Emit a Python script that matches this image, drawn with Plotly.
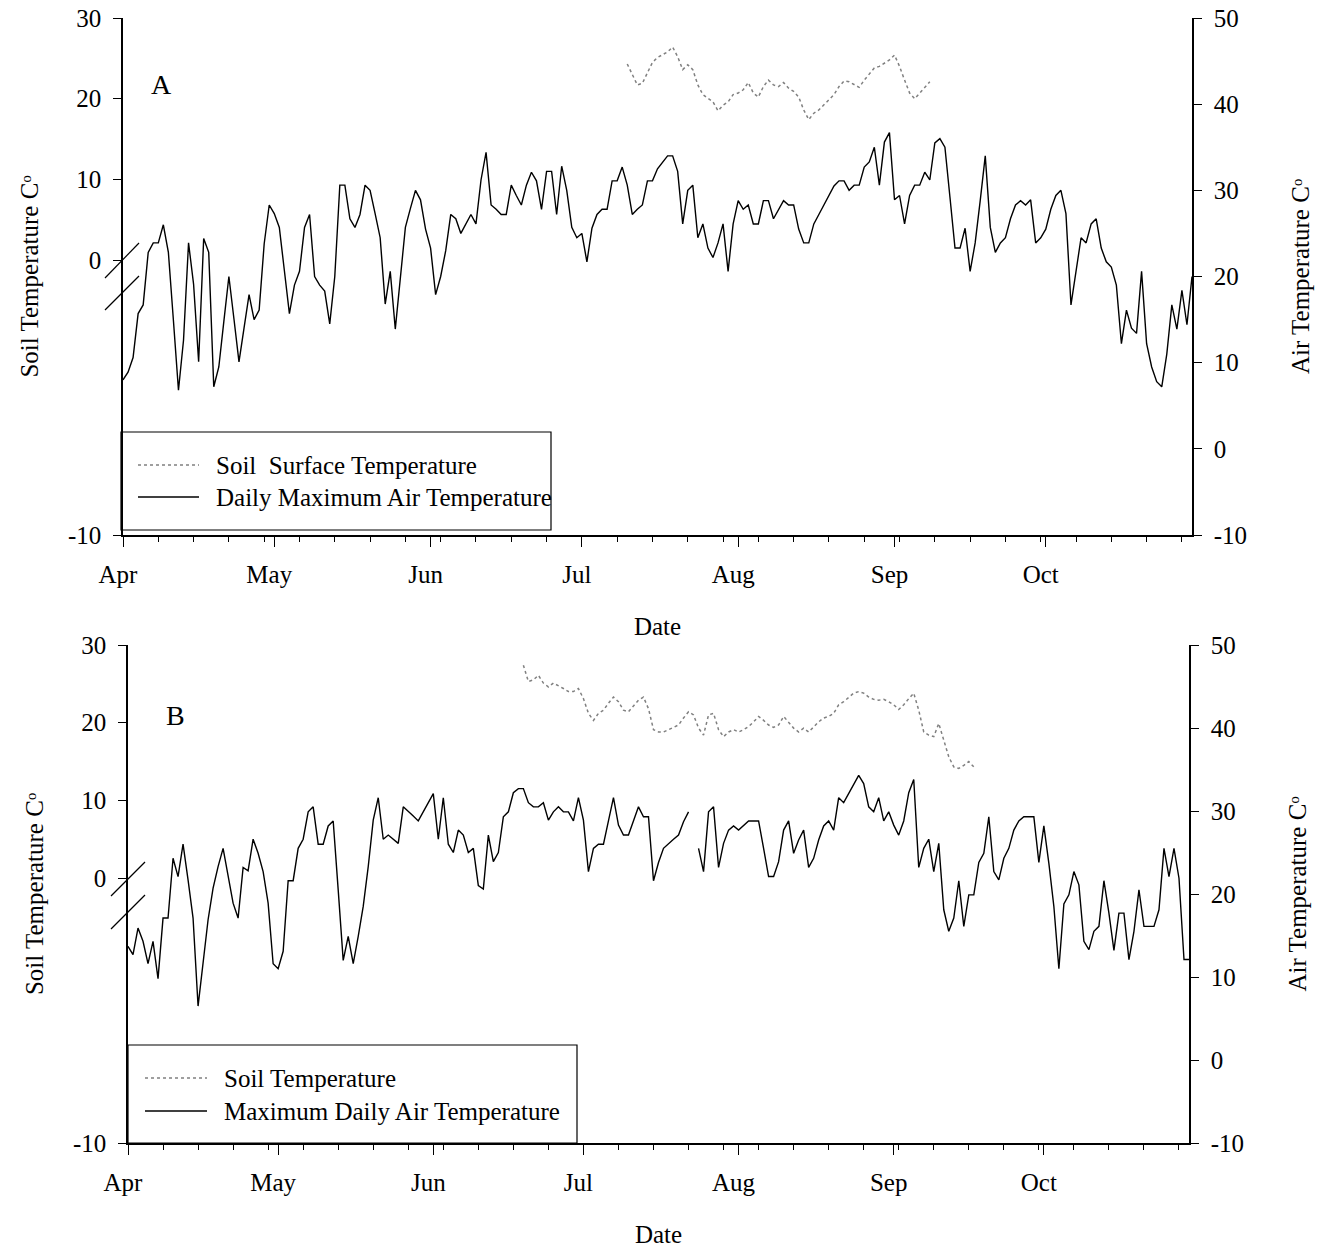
import plotly.graph_objects as go
import pandas as pd

W, H = 1332, 1251
FONT = "Liberation Serif"
START = "2000-04-01"

# ---------------- Panel A data ----------------
air_a = [8.0, 8.9, 10.6, 15.7, 16.7, 22.8, 23.9, 23.9, 26.0, 22.8,
         14.9, 6.8, 12.6, 23.9, 19.1, 10.1, 24.4, 22.8, 7.2, 9.5,
         14.8, 20.0, 15.1, 10.1, 14.0, 17.9, 15.0, 16.1, 23.8, 28.3,
         27.3, 25.7, 20.7, 15.7, 19.0, 20.6, 25.7, 27.2, 20.0, 19.0,
         18.3, 14.5, 20.0, 30.6, 30.6, 26.7, 25.7, 27.2, 30.6, 30.0,
         27.3, 24.5, 16.8, 20.6, 13.9, 19.9, 25.7, 27.9, 30.0, 28.9,
         25.5, 23.3, 17.9, 20.0, 23.0, 27.2, 26.7, 25.0, 26.1, 27.2,
         26.1, 31.2, 34.4, 28.3, 27.8, 27.2, 27.2, 30.6, 29.4, 28.3,
         30.6, 32.1, 31.1, 27.8, 32.2, 32.2, 27.2, 32.8, 30.0, 25.7,
         24.5, 25.0, 21.7, 25.6, 27.2, 27.8, 27.8, 31.1, 31.1, 32.7,
         30.6, 27.2, 27.8, 28.3, 31.1, 31.1, 32.5, 33.3, 34.0, 34.0,
         32.2, 26.1, 30.0, 30.6, 24.5, 26.1, 23.3, 22.2, 23.9, 26.1,
         20.6, 26.1, 28.8, 27.8, 28.3, 26.1, 26.1, 28.8, 28.8, 26.7,
         27.8, 28.8, 28.3, 28.3, 25.5, 23.9, 23.9, 26.1, 27.2, 28.3,
         29.4, 30.5, 31.1, 31.1, 30.0, 30.6, 30.6, 32.7, 33.3, 35.0,
         30.6, 35.6, 36.7, 28.9, 29.4, 26.1, 29.4, 30.6, 30.6, 32.1,
         31.2, 35.5, 36.0, 35.0, 29.2, 23.3, 23.3, 25.6, 20.6, 23.9,
         28.8, 34.0, 25.7, 22.8, 23.9, 24.5, 26.7, 28.3, 28.8, 28.3,
         28.9, 23.9, 24.5, 25.5, 27.8, 29.4, 30.0, 27.3, 16.7, 20.6,
         24.5, 23.9, 26.1, 26.7, 23.3, 21.7, 21.1, 19.0, 12.2, 16.1,
         14.0, 13.4, 20.6, 12.2, 9.5, 7.8, 7.2, 11.0, 16.7, 13.9,
         18.4, 14.4, 20.0]

soil_a_start = "2000-07-10"
soil_a = [24.3, 23.1, 21.7, 21.9, 23.2, 24.5, 25.1, 25.4, 25.8, 26.4,
          25.2, 23.6, 24.2, 23.6, 21.7, 20.5, 20.0, 19.6, 18.5, 19.2,
          19.6, 20.5, 20.7, 21.1, 22.0, 20.7, 20.2, 21.5, 22.3, 21.7,
          21.5, 22.0, 21.3, 20.9, 20.2, 18.6, 17.4, 18.2, 18.6, 19.2,
          19.8, 20.5, 21.5, 22.2, 22.1, 21.7, 21.4, 22.3, 23.1, 23.8,
          24.0, 24.4, 24.8, 25.4, 24.0, 22.3, 20.7, 20.0, 20.7, 21.5,
          22.1]

# ---------------- Panel B data ----------------
air_b = [13.7, 12.7, 15.9, 14.3, 11.6, 14.3, 9.8, 17.1, 17.1, 24.3,
         22.1, 26.0, 21.7, 17.1, 6.5, 12.0, 16.9, 20.7, 23.3, 25.5,
         22.1, 18.9, 17.1, 23.2, 22.8, 26.6, 24.9, 22.7, 18.9, 11.6,
         11.0, 13.1, 21.6, 21.6, 25.5, 26.6, 29.9, 30.5, 26.0, 26.0,
         28.2, 28.8, 20.5, 12.0, 14.9, 11.6, 14.9, 18.5, 23.3, 28.9,
         31.6, 26.6, 27.1, 26.6, 26.1, 30.5, 30.0, 29.4, 28.8, 29.9,
         31.0, 32.1, 26.6, 31.6, 26.0, 25.0, 27.7, 27.1, 25.0, 25.5,
         21.0, 20.6, 27.1, 23.9, 25.0, 29.3, 29.9, 32.2, 32.7, 32.7,
         31.0, 30.5, 30.5, 31.0, 28.9, 29.9, 30.5, 29.9, 29.9, 28.8,
         31.6, 28.9, 22.7, 25.5, 26.0, 26.0, 28.8, 31.6, 28.3, 27.1,
         27.1, 28.8, 30.5, 29.3, 29.3, 21.6, 23.8, 25.5, 26.1, 26.6,
         27.1, 28.7, 29.9, None, 25.5, 22.7, 29.9, 30.5, 23.2, 26.1,
         27.7, 28.2, 27.7, 28.2, 28.8, 28.8, 28.8, 25.5, 22.1, 22.1,
         23.9, 27.7, 28.8, 24.9, 26.5, 27.7, 23.2, 24.3, 26.5, 28.2,
         28.8, 27.7, 31.6, 31.0, 32.1, 33.3, 34.3, 33.3, 30.5, 29.9,
         31.6, 28.8, 29.9, 28.3, 27.1, 28.8, 32.2, 33.8, 23.2, 25.5,
         26.6, 22.7, 26.1, 18.1, 15.5, 17.1, 21.6, 16.1, 19.9, 19.9,
         23.8, 24.9, 29.3, 22.7, 21.7, 24.3, 25.5, 27.7, 28.8, 29.3,
         29.3, 29.3, 23.8, 28.2, 23.7, 18.5, 11.0, 18.8, 19.9, 22.7,
         21.1, 14.3, 13.3, 15.5, 16.1, 21.6, 17.7, 13.2, 17.7, 17.7,
         12.1, 15.5, 20.5, 16.1, 16.1, 16.1, 18.1, 25.5, 22.1, 25.5,
         21.9, 12.1, 12.1]

soil_b_start = "2000-06-19"
soil_b = [27.4, 25.3, 25.5, 26.1, 25.1, 24.6, 25.1, 24.8, 24.4, 24.0,
          24.0, 24.4, 23.1, 21.2, 20.3, 21.2, 21.6, 22.5, 23.3, 22.7,
          21.6, 21.4, 22.1, 22.9, 23.3, 21.8, 19.1, 18.8, 18.8, 19.1,
          19.3, 19.7, 20.6, 21.4, 21.0, 19.3, 18.4, 21.0, 21.2, 19.1,
          18.2, 18.8, 19.1, 18.8, 19.1, 19.5, 20.1, 20.8, 20.3, 19.7,
          19.4, 19.7, 20.8, 20.1, 19.3, 18.8, 19.3, 18.8, 19.5, 20.1,
          20.6, 20.8, 21.2, 22.3, 22.7, 23.3, 23.8, 24.0, 23.8, 23.3,
          23.0, 22.9, 23.0, 22.7, 22.3, 21.7, 22.3, 23.1, 23.8, 21.6,
          18.8, 18.4, 18.2, 19.9, 17.8, 15.6, 14.3, 14.1, 14.5, 15.0,
          14.3]

# Left (soil) axis is broken: 30..0 linear, "-10" placed at the bottom.
left_ticktext = ["-10", "0", "10", "20", "30"]
right_tickvals = [-10, 0, 10, 20, 30, 40, 50]
right_ticktext = ["-10", "0", "10", "20", "30", "40", "50"]

legend_a = ["Soil  Surface Temperature", "Daily Maximum Air Temperature"]
legend_b = ["Soil Temperature", "Maximum Daily Air Temperature"]
soil_title = "Soil Temperature C\u1d52"
air_title = "Air Temperature C\u1d52"

d_air_a = pd.date_range(START, periods=len(air_a), freq="D")
d_soil_a = pd.date_range(soil_a_start, periods=len(soil_a), freq="D")
d_air_b = pd.date_range(START, periods=len(air_b), freq="D")
d_soil_b = pd.date_range(soil_b_start, periods=len(soil_b), freq="D")
X_END = "2000-10-30"

FS = 25


def px(x):
    return x / W


def py(y):
    return 1 - y / H


fig = go.Figure()
soil_line = dict(color="#808080", width=1.5, dash="dot")
air_line = dict(color="black", width=1.4)

fig.add_trace(go.Scatter(x=d_soil_a, y=soil_a, mode="lines", line=soil_line,
                         xaxis="x", yaxis="y", name=legend_a[0], showlegend=False))
fig.add_trace(go.Scatter(x=d_air_a, y=air_a, mode="lines", line=air_line,
                         xaxis="x", yaxis="y2", name=legend_a[1], showlegend=False))
fig.add_trace(go.Scatter(x=d_soil_b, y=soil_b, mode="lines", line=soil_line,
                         xaxis="x2", yaxis="y3", name=legend_b[0], showlegend=False))
fig.add_trace(go.Scatter(x=d_air_b, y=air_b, mode="lines", line=air_line,
                         connectgaps=False,
                         xaxis="x2", yaxis="y4", name=legend_b[1], showlegend=False))

TF = dict(family=FONT, size=FS, color="black")


def xaxis_cfg(x0, x1, y_anchor):
    return dict(
        domain=[px(x0), px(x1)], anchor=y_anchor, type="date", automargin=False,
        range=[START, X_END], dtick="M1", tick0=START, tickformat="%b",
        ticks="outside", ticklen=10, tickwidth=1, tickcolor="black",
        showline=True, linecolor="black", linewidth=1.5,
        showgrid=False, zeroline=False, tickfont=TF,
        ticklabelstandoff=6, ticklabelshift=-5,
        title=dict(text="Date", font=TF, standoff=31),
        minor=dict(dtick=7 * 86400000, tick0=START, ticks="outside",
                   ticklen=5, tickwidth=1, tickcolor="black", showgrid=False),
    )


def left_cfg(y_top, y_zero, y_bot, x_anchor):
    scale = (y_zero - y_top) / 30.0
    bottom = 30 - (y_bot - y_top) / scale
    return dict(
        domain=[py(y_bot), py(y_top)], anchor=x_anchor, automargin=False,
        range=[bottom, 30], tickvals=[bottom, 0, 10, 20, 30],
        ticktext=left_ticktext, ticks="outside", ticklen=8, tickwidth=1,
        tickcolor="black", showline=True, linecolor="black", linewidth=1.5,
        showgrid=False, zeroline=False, tickfont=TF, ticklabelstandoff=7,
        title=dict(text=soil_title, font=TF, standoff=22),
    )


def right_cfg(overlay, x_anchor):
    return dict(
        overlaying=overlay, side="right", anchor=x_anchor, automargin=False,
        range=[-10, 50], tickvals=right_tickvals, ticktext=right_ticktext,
        ticks="outside", ticklen=8, tickwidth=1, tickcolor="black",
        showline=True, linecolor="black", linewidth=1.5,
        showgrid=False, zeroline=False, tickfont=TF, ticklabelstandoff=7,
        title=dict(text=air_title, font=TF, standoff=45),
    )


fig.update_layout(
    width=W, height=H, margin=dict(l=0, r=0, t=0, b=0, autoexpand=False),
    paper_bgcolor="white", plot_bgcolor="white",
    font=dict(family=FONT, size=FS, color="black"),
    showlegend=False,
    xaxis=xaxis_cfg(123, 1192, "y"),
    yaxis=left_cfg(18, 260, 535, "x"),
    yaxis2=right_cfg("y", "x"),
    xaxis2=xaxis_cfg(128, 1189, "y3"),
    yaxis3=left_cfg(645, 878, 1143, "x2"),
    yaxis4=right_cfg("y3", "x2"),
)

shapes = []
ann = []


def seg(x0, y0, x1, y1, **kw):
    d = dict(type="line", xref="paper", yref="paper",
             x0=px(x0), y0=py(y0), x1=px(x1), y1=py(y1),
             line=dict(color="black", width=1.2))
    d["line"].update(kw)
    shapes.append(d)


def text(x, y, s, size=FS, xanchor="center"):
    ann.append(dict(xref="paper", yref="paper", x=px(x), y=py(y), text=s,
                    showarrow=False, xanchor=xanchor, yanchor="middle",
                    font=dict(family=FONT, size=size, color="black")))


# axis break marks
seg(105, 278, 139, 243)
seg(105, 310, 139, 276)
seg(111, 896, 145, 862)
seg(111, 929, 145, 895)

# legend A
shapes.append(dict(type="rect", xref="paper", yref="paper",
                   x0=px(121), y0=py(530), x1=px(551), y1=py(432),
                   line=dict(color="black", width=1.2)))
seg(138, 465, 199, 465, color="#808080", width=1.4, dash="dot")
seg(138, 497, 199, 497, color="black", width=1.4)
text(214, 465, legend_a[0], xanchor="left")
text(214, 497, legend_a[1], xanchor="left")

# legend B
shapes.append(dict(type="rect", xref="paper", yref="paper",
                   x0=px(128), y0=py(1143), x1=px(577), y1=py(1045),
                   line=dict(color="black", width=1.2)))
seg(145, 1078, 207, 1078, color="#808080", width=1.4, dash="dot")
seg(145, 1111, 207, 1111, color="black", width=1.4)
text(222, 1078, legend_b[0], xanchor="left")
text(222, 1111, legend_b[1], xanchor="left")

# panel labels
text(161, 85, "A", size=28)
text(175, 715, "B", size=28)

fig.update_layout(shapes=shapes, annotations=ann)
fig.write_html("out.html")
